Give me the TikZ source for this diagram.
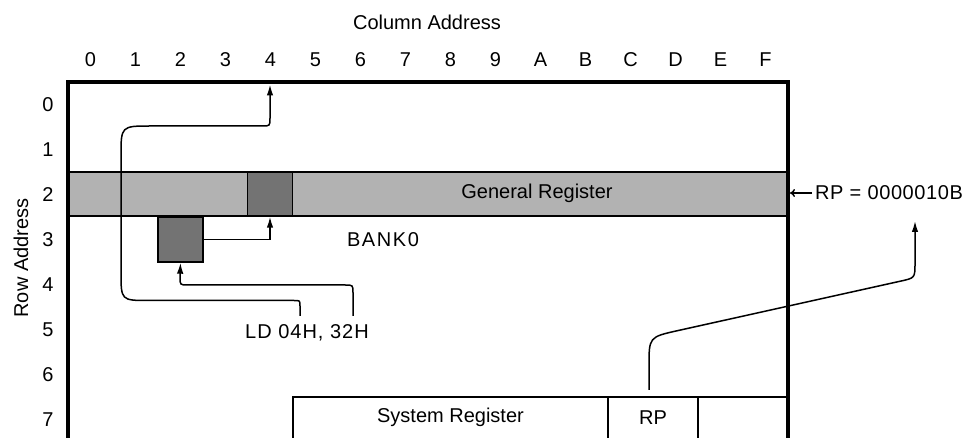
\documentclass[tikz,border=0pt]{standalone}
\usepackage{fontspec}
\setmainfont{Liberation Sans}
\usetikzlibrary{arrows.meta}
\begin{document}
\begin{tikzpicture}[x=1pt,y=-1pt,
  lbl/.style={font=\fontsize{20}{22}\selectfont, inner sep=0pt},
  thinline/.style={line width=1.5pt},
  frameline/.style={line width=4pt, line join=miter},
  arr/.style={line width=1.5pt, -{Latex[length=11pt,width=6.5pt]}},
  bandbox/.style={fill=black!30, draw=black, line width=1.4pt, inner sep=0pt},
  darkbox/.style={fill=black!55, draw=black, line width=1.4pt, inner sep=0pt},
  cellbox/.style={inner sep=0pt, font=\fontsize{20}{22}\selectfont}
]
\useasboundingbox (0,0) rectangle (970,438);

% titles
\node[lbl] (coladdr) at (427,22) {Column Address};
\node[lbl, rotate=90] (rowaddr) at (21,258) {Row Address};

% column and row labels
\foreach \c [count=\i from 0] in {0,1,2,3,4,5,6,7,8,9,A,B,C,D,E,F}
  \node[lbl] (col\i) at ({90.5+45*\i},60) {\c};
\foreach \r in {0,...,7}
  \node[lbl] (row\r) at (48,{104.5+45*\r}) {\r};

% general register band and cells
\node[bandbox, minimum width=720pt, minimum height=44pt] (band) at (428,194) {};
\node[darkbox, minimum width=45pt, minimum height=44pt] (cellA) at (270,194) {};
\node[darkbox, minimum width=45pt, minimum height=45pt] (cellB) at (180.5,239.5) {};

% frame
\coordinate (fBL) at (68,438);
\coordinate (fTL) at (68,82);
\coordinate (fTR) at (788,82);
\coordinate (fBR) at (788,438);
\draw[frameline] (fBL) -- (fTL) -- (fTR) -- (fBR);

% system register row
\node[cellbox, minimum width=315pt, minimum height=41pt] (sysreg) at (450.5,417.5) {System Register};
\node[cellbox, minimum width=90pt, minimum height=41pt] (rpcell) at (653,417.5) {RP};
\node[cellbox, minimum width=90pt, minimum height=41pt] (emptycell) at (743,417.5) {};
\draw[thinline] (293,438) -- (293,397) -- (788,397);
\draw[thinline] (608,397) -- (608,438);
\draw[thinline] (698,397) -- (698,438);

% labels
\node[lbl] (gen) at (537,193) {General Register};
\node[lbl] (bank) at (383,240) {\addfontfeature{LetterSpace=8}BANK0};
\node[lbl] (ld) at (307,333) {\addfontfeature{LetterSpace=5}LD 04H, 32H};
\node[lbl, anchor=west] (rpeq) at (815,193) {\addfontfeature{LetterSpace=3}RP = 0000010B};

% connector endpoints
\coordinate (ld04) at (300,316);
\coordinate (ld32) at (353,316);
\coordinate (top4) at (270,84.5);
\coordinate (rpstart) at (649,390);
\coordinate (rptip) at (915,221);
\coordinate (redge) at (790,193);

% LD 04H -> column 4 address
\draw[arr] (ld04) -- (300,306) .. controls (300,300.5) .. (294,300.5)
  -- (149,300.5) .. controls (121,300.5) .. (121,272)
  -- (121,156) .. controls (121,126) .. (151,126)
  -- (262,126) .. controls (270,126) .. (270,118) -- (top4);

% 32H -> cell (3,2)
\draw[arr] (ld32) -- (353,293) .. controls (353,285) .. (345,285)
  -- (188,285) .. controls (180,285) .. (180,277) -- (cellB.south);

% cell (3,2) -> cell (2,4)
\draw[arr] (cellB.east) -| (cellA.south);

% RP -> RP value
\draw[arr] (rpstart) -- (649,366) .. controls (649,337) .. (678.3,330.5)
  -- (900.3,281.2) .. controls (915,278) .. (915,263) -- (rptip);

% RP value -> bank row
\draw[thinline, -{To[length=5pt,width=8pt]}] ([xshift=-3pt]rpeq.west) -- (redge);
\end{tikzpicture}
\end{document}
